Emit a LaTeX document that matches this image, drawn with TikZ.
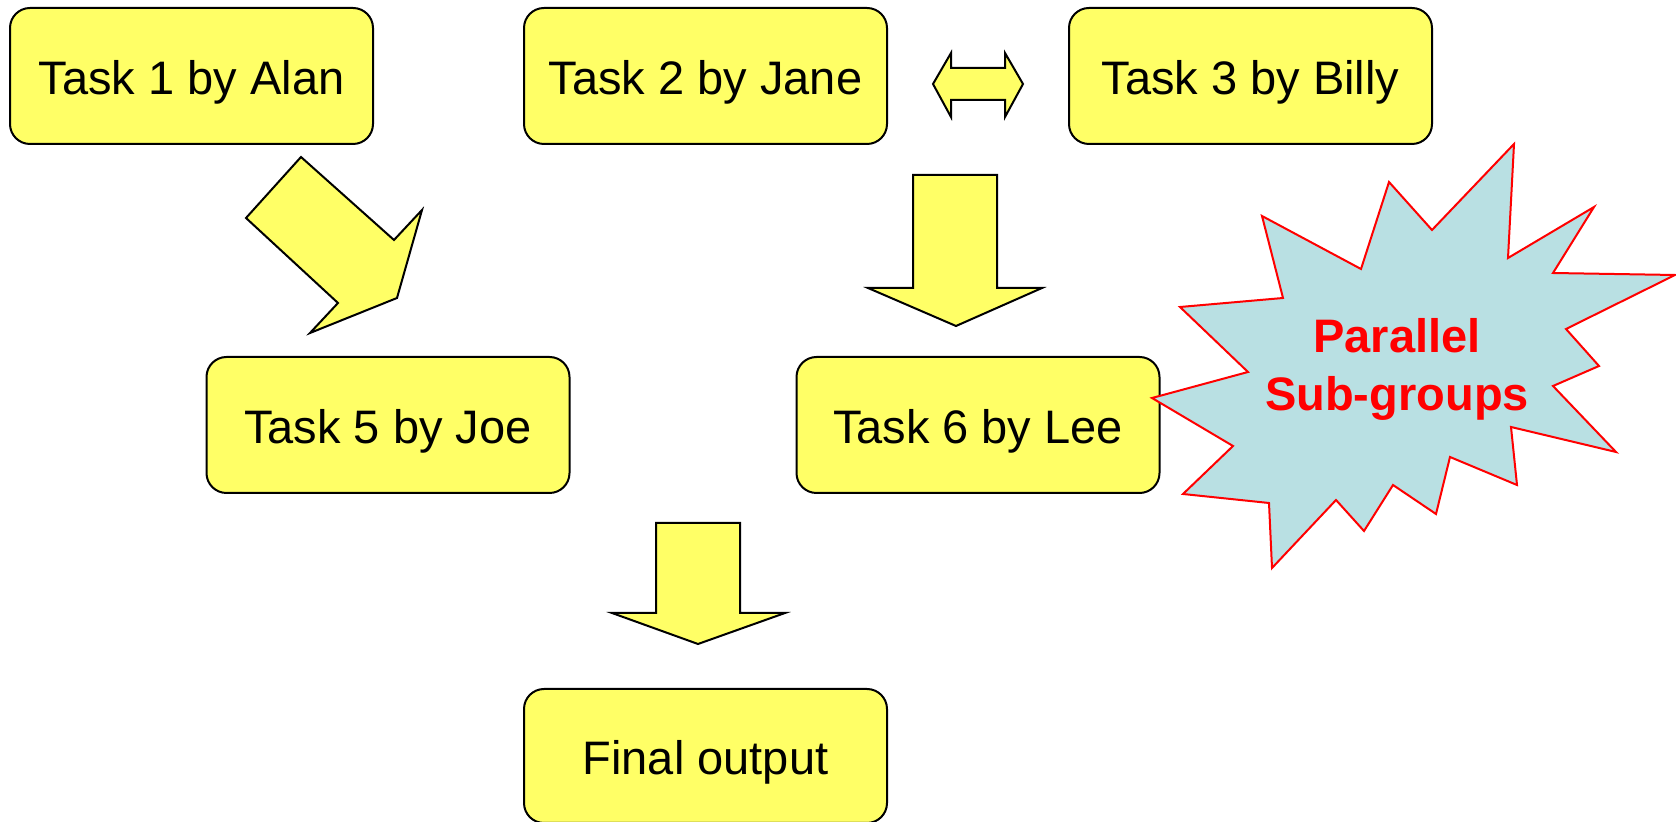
\documentclass[tikz,border=0pt]{standalone}
\usepackage{fontspec}
\setmainfont{Liberation Sans}
\definecolor{boxyellow}{RGB}{255,255,102}
\definecolor{burstblue}{RGB}{185,224,227}
\begin{document}
\begin{tikzpicture}[x=0.5pt,y=-0.5pt,
  taskbox/.style={draw=black, line width=1pt, fill=boxyellow,
    rounded corners=10pt, inner sep=0pt,
    minimum width=181.5pt, minimum height=68pt,
    font=\fontsize{23.5}{28}\selectfont, text height=19pt, text depth=0pt},
  blockarrow/.style={draw=black, line width=1pt, fill=boxyellow, line join=miter},
  burst/.style={draw=red, line width=1pt, fill=burstblue, line join=miter},
  bursttext/.style={text=red, align=center, inner sep=0pt,
    font=\fontsize{23.5}{29}\bfseries\selectfont}]
\useasboundingbox (0,0) rectangle (1676,822);

% task boxes
\node[taskbox] (t1) at (191.5,76) {Task 1 by Alan};
\node[taskbox] (t2) at (705.5,76) {Task 2 by Jane};
\node[taskbox] (t3) at (1250.5,76) {Task 3 by Billy};
\node[taskbox] (t5) at (388,425) {Task 5 by Joe};
\node[taskbox] (t6) at (978,425) {Task 6 by Lee};
\node[taskbox, minimum height=67pt] (fin) at (705.5,756) {Final output};

% block arrows
\draw[blockarrow] (301,157) -- (394,240) -- (422,210) -- (397,298)
  -- (310,333) -- (338,303) -- (246,218) -- cycle;
\draw[blockarrow] (933,84) -- (951,53) -- (951,68) -- (1005,68) -- (1005,53)
  -- (1023,84) -- (1005,117) -- (1005,100) -- (951,100) -- (951,117) -- cycle;
\draw[blockarrow] (913,175) -- (997,175) -- (997,288) -- (1042,288)
  -- (956,326) -- (868,288) -- (913,288) -- cycle;
\draw[blockarrow] (656,523) -- (740,523) -- (740,613) -- (785,613)
  -- (698,644) -- (612,613) -- (656,613) -- cycle;

% starburst callout
\draw[burst] (1514,144) -- (1508,258) -- (1594,207) -- (1553,273) -- (1675,275)
  -- (1566,329) -- (1599,366) -- (1553,386) -- (1616,452) -- (1511,427)
  -- (1517,485) -- (1450,457) -- (1436,514) -- (1393,485) -- (1364,531)
  -- (1336,500) -- (1272,568) -- (1269,503) -- (1183,494) -- (1233,446)
  -- (1152,398) -- (1248,372) -- (1180,307) -- (1283,298) -- (1262,216)
  -- (1361,269) -- (1389,182) -- (1432,230) -- cycle;
\node[bursttext, anchor=base] (burstlabel) at (1397,411) {Parallel\\Sub-groups};
\end{tikzpicture}
\end{document}
